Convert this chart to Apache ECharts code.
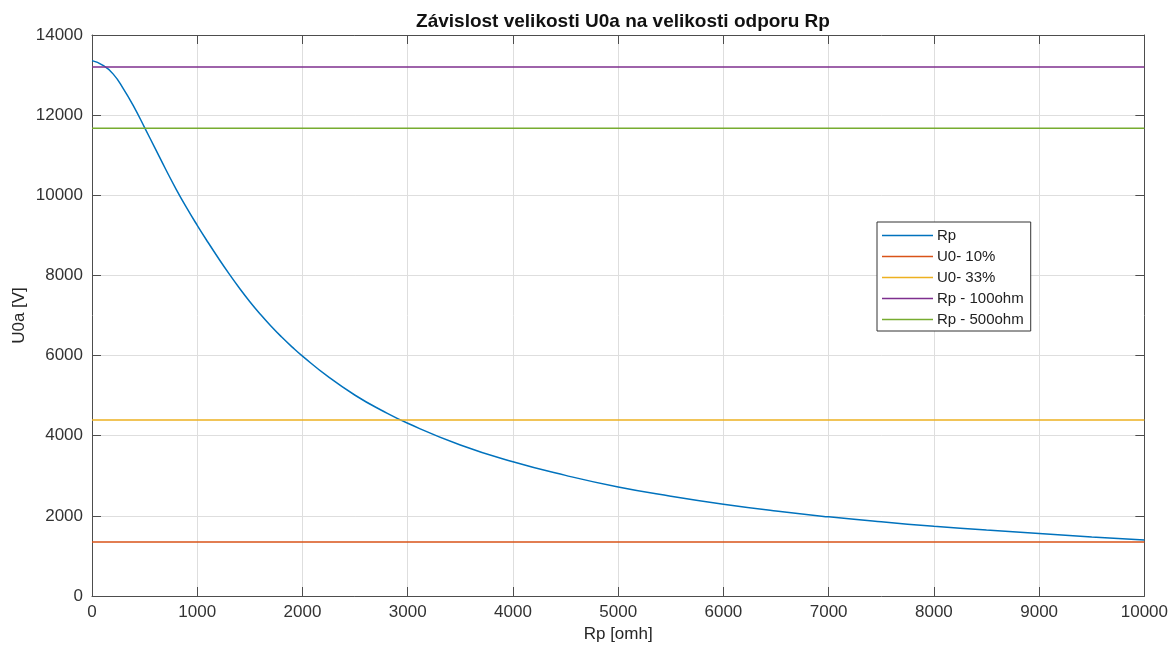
<!DOCTYPE html>
<html>
<head>
<meta charset="utf-8">
<script src="https://cdn.jsdelivr.net/npm/echarts@6/dist/echarts.min.js"></script>
<style>
  html, body { margin: 0; padding: 0; background: #fff; }
  #chart { width: 1171px; height: 649px; }
</style>
</head>
<body>
<div id="chart"></div>
<script>
// Rp [ohm] and U0a [V]
var rpValues = [0, 100, 200, 300, 400, 500, 600, 700, 800, 900, 1000, 1100, 1200, 1300, 1400, 1500,
    1600, 1700, 1800, 1900, 2000, 2250, 2500, 2750, 3000, 3500, 4000, 4500, 5000, 5500, 6000,
    6500, 7000, 7500, 8000, 8500, 9000, 9500, 10000];
var u0aValues = [13360, 13250, 13030, 12650, 12200, 11690, 11170, 10650, 10150, 9685, 9250, 8835, 8435, 8050, 7685, 7345,
    7030, 6738, 6468, 6218, 5986, 5460, 5010, 4635, 4310, 3770, 3350, 3010, 2720, 2490, 2290,
    2120, 1975, 1850, 1740, 1645, 1560, 1475, 1398];

// horizontal reference lines
var levelNames = ['U0- 10%', 'U0- 33%', 'Rp - 100ohm', 'Rp - 500ohm'];
var levelValues = [1345, 4395, 13200, 11670];
var xRange = [0, 10000];

var xTicks = [0, 1000, 2000, 3000, 4000, 5000, 6000, 7000, 8000, 9000, 10000];
var yTicks = [0, 2000, 4000, 6000, 8000, 10000, 12000, 14000];

var colors = ['#0072BD', '#D95319', '#EDB120', '#7E2F8E', '#77AC30'];
var axisColor = '#4d4d4d';
var font = 'Liberation Sans, Arial, sans-serif';

var myChart = echarts.init(document.getElementById('chart'));

var series = [{
    name: 'Rp',
    type: 'line',
    showSymbol: false,
    smooth: 0.5,
    lineStyle: { width: 1.5 },
    data: rpValues.map(function (x, i) { return [x, u0aValues[i]]; })
}];
levelNames.forEach(function (n, i) {
    series.push({
        name: n,
        type: 'line',
        showSymbol: false,
        lineStyle: { width: 1.5 },
        data: [[xRange[0], levelValues[i]], [xRange[1], levelValues[i]]]
    });
});

function baseAxis(extra) {
    var a = {
        axisLine: { show: true, onZero: false, lineStyle: { color: axisColor, width: 1 } },
        axisTick: { show: true, inside: true, length: 9, lineStyle: { color: axisColor } },
        splitLine: { show: false },
        axisLabel: { show: false }
    };
    for (var k in extra) a[k] = extra[k];
    return a;
}

var option = {
    color: colors,
    animation: false,
    textStyle: { fontFamily: font },
    title: {
        text: 'Závislost velikosti U0a na velikosti odporu Rp',
        left: 618,
        textAlign: 'center',
        top: 7,
        textStyle: { fontSize: 19, fontWeight: 'bold', color: '#111', fontFamily: font }
    },
    grid: { left: 92, right: 26, top: 35, bottom: 53 },
    legend: {
        orient: 'vertical',
        left: 877,
        top: 222,
        icon: 'rect',
        itemWidth: 51,
        itemHeight: 1.5,
        itemGap: 6,
        padding: [6, 7, 4, 5],
        borderColor: '#333',
        borderWidth: 1,
        backgroundColor: '#fff',
        textStyle: { fontSize: 15, color: '#222', fontFamily: font, padding: [0, 0, 0, -1] },
        data: ['Rp'].concat(levelNames)
    },
    xAxis: [
        baseAxis({
            type: 'value', min: 0, max: 10000, interval: 1000,
            name: 'Rp [omh]', nameLocation: 'middle', nameGap: 29,
            nameTextStyle: { fontSize: 17, color: '#262626', fontFamily: font },
            axisLabel: { show: true, fontSize: 17, color: '#333', margin: 8, fontFamily: font,
                formatter: function (v) { return xTicks.indexOf(v) >= 0 ? String(v) : ''; } },
            splitLine: { show: true, lineStyle: { color: '#dedede', width: 1 } }
        }),
        baseAxis({ type: 'value', position: 'top', min: 0, max: 10000, interval: 1000 })
    ],
    yAxis: [
        baseAxis({
            type: 'value', min: 0, max: 14000, interval: 2000,
            name: 'U0a [V]', nameLocation: 'middle', nameGap: 64, nameMoveOverlap: false,
            nameTextStyle: { fontSize: 17, color: '#262626', fontFamily: font },
            axisLabel: { show: true, fontSize: 17, color: '#333', margin: 9, fontFamily: font,
                formatter: function (v) { return yTicks.indexOf(v) >= 0 ? String(v) : ''; } },
            splitLine: { show: true, lineStyle: { color: '#dedede', width: 1 } }
        }),
        baseAxis({ type: 'value', position: 'right', min: 0, max: 14000, interval: 2000 })
    ],
    series: series
};

myChart.setOption(option);

window.addEventListener('resize', function () {
    myChart.resize();
});
</script>
</body>
</html>
